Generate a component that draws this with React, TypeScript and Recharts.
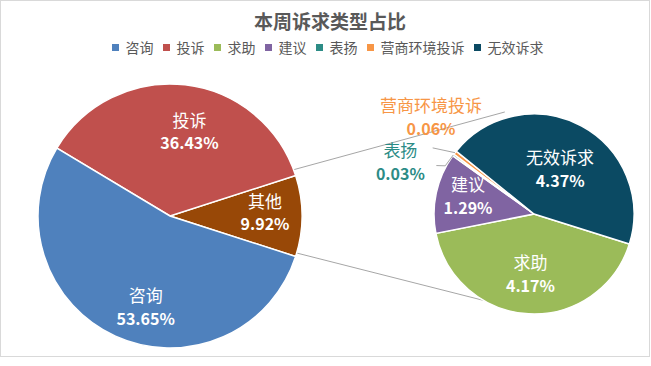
import { PieChart, Pie, Cell } from "recharts";

const categories = ["咨询", "投诉", "求助", "建议", "表扬", "营商环境投诉", "无效诉求"];
const shares = [53.65, 36.43, 4.17, 1.29, 0.03, 0.06, 4.37];
const colors = ["#4F81BD", "#C0504D", "#9BBB59", "#8064A2", "#2C8C86", "#F79646", "#0B4A63"];
const otherName = "其他";
const otherColor = "#984807";
const mainCount = 2;
// secondary pie order, clockwise from its start edge
const secondOrder = ["求助", "建议", "表扬", "营商环境投诉", "无效诉求"];

const FONT = "'Noto Sans CJK SC', 'Noto Sans', sans-serif";
const W = 651;
const H = 366;
const P1 = { cx: 165, cy: 211, r: 132 };
const P2 = { cx: 529, cy: 209, r: 100, start: -17.5 };
const RAD = Math.PI / 180;

const otherValue = shares.slice(mainCount).reduce((s, v) => s + v, 0);
const total = shares.reduce((s, v) => s + v, 0);
const otherAngle = (otherValue / total) * 360;

const leftData = [
  { name: otherName, value: otherValue, color: otherColor },
  ...categories
    .slice(0, mainCount)
    .reverse()
    .map((name) => ({ name, value: shares[categories.indexOf(name)], color: colors[categories.indexOf(name)] })),
];
const rightData = secondOrder.map((name) => ({
  name,
  value: shares[categories.indexOf(name)],
  color: colors[categories.indexOf(name)],
}));

// label placement: [angle offset from slice middle, radius factor]
const labelLayout: Record<string, { d: number; k: number; outside?: boolean; lead?: number[][] }> = {
  咨询: { d: 10, k: 0.74 },
  投诉: { d: -7, k: 0.63 },
  其他: { d: 0, k: 0.72 },
  无效诉求: { d: -4, k: 0.49 },
  求助: { d: 0, k: 0.64 },
  建议: { d: 0, k: 0.675 },
  表扬: { d: 16.4, k: 1.42, outside: true, lead: [[7.7, 1.01], [9.8, 1.09]] },
  营商环境投诉: { d: -4.4, k: 1.39, outside: true, lead: [[4.7, 1.21]] },
};

const polar = (cx: number, cy: number, r: number, a: number) => ({
  x: cx + r * Math.cos(a * RAD),
  y: cy - r * Math.sin(a * RAD),
});

function renderLabel(props: any) {
  const { cx, cy, midAngle, outerRadius, payload } = props;
  const name = payload?.name ?? props.name;
  const lay = labelLayout[name];
  if (!lay) return null;
  const p = polar(cx, cy, outerRadius * lay.k, midAngle + lay.d);
  const fill = lay.outside ? payload.color : "#ffffff";
  const pct = (payload.value ?? props.value).toFixed(2) + "%";
  let lead = null;
  if (lay.lead) {
    const pts = [polar(cx, cy, outerRadius, midAngle), ...lay.lead.map(([d, k]) => polar(cx, cy, outerRadius * k, midAngle + d))];
    lead = (
      <polyline
        points={pts.map((q) => `${q.x},${q.y}`).join(" ")}
        fill="none"
        stroke="#a6a6a6"
        strokeWidth={1}
      />
    );
  }
  return (
    <g>
      {lead}
      <text x={p.x} y={p.y - 16} textAnchor="middle" dominantBaseline="central" fill={fill} fontSize={17} fontFamily={FONT}>
        {name}
      </text>
      <text x={p.x} y={p.y + 7} textAnchor="middle" dominantBaseline="central" fill={fill} fontSize={16} fontWeight="bold" fontFamily={FONT}>
        {pct}
      </text>
    </g>
  );
}

function Connectors() {
  const a = polar(P1.cx, P1.cy, P1.r, otherAngle / 2);
  const b = polar(P1.cx, P1.cy, P1.r, -otherAngle / 2);
  const c = polar(P2.cx, P2.cy, P2.r, 104);
  const d = polar(P2.cx, P2.cy, P2.r, -108);
  return (
    <svg width={W} height={H} style={{ position: "absolute", left: 0, top: 0, pointerEvents: "none" }}>
      <line x1={a.x} y1={a.y} x2={c.x} y2={c.y} stroke="#a6a6a6" strokeWidth={1} />
      <line x1={b.x} y1={b.y} x2={d.x} y2={d.y} stroke="#a6a6a6" strokeWidth={1} />
    </svg>
  );
}

export default function App() {
  return (
    <div style={{ position: "absolute", left: 0, top: 0, width: W, height: H, background: "#fff", fontFamily: FONT }}>
      <div
        style={{
          position: "absolute",
          left: 0,
          top: 0,
          width: 650,
          height: 357,
          boxSizing: "border-box",
          border: "1px solid #d9d9d9",
        }}
      />
      <div
        style={{
          position: "absolute",
          left: 0,
          width: 660,
          top: 7,
          textAlign: "center",
          fontSize: 19,
          fontWeight: "bold",
          color: "#595959",
          lineHeight: "28px",
        }}
      >
        本周诉求类型占比
      </div>
      <div
        style={{
          position: "absolute",
          left: 0,
          width: 655,
          top: 37,
          display: "flex",
          justifyContent: "center",
          fontSize: 14,
          color: "#595959",
          lineHeight: "20px",
        }}
      >
        {categories.map((name, i) => (
          <span key={name} style={{ display: "flex", alignItems: "center", marginRight: i < categories.length - 1 ? 9 : 0 }}>
            <span style={{ width: 7, height: 7, background: colors[i], marginRight: 7, display: "inline-block" }} />
            {name}
          </span>
        ))}
      </div>
      <Connectors />
      <div style={{ position: "absolute", left: 0, top: 0 }}>
        <PieChart width={W} height={H}>
          <Pie
            data={leftData}
            dataKey="value"
            nameKey="name"
            cx={P1.cx}
            cy={P1.cy}
            outerRadius={P1.r}
            startAngle={-otherAngle / 2}
            endAngle={360 - otherAngle / 2}
            stroke="#ffffff"
            strokeWidth={1.5}
            label={renderLabel}
            labelLine={false}
            isAnimationActive={false}
          >
            {leftData.map((e) => (
              <Cell key={e.name} fill={e.color} />
            ))}
          </Pie>
          <Pie
            data={rightData}
            dataKey="value"
            nameKey="name"
            cx={P2.cx}
            cy={P2.cy}
            outerRadius={P2.r}
            startAngle={P2.start}
            endAngle={P2.start - 360}
            stroke="#ffffff"
            strokeWidth={1.5}
            label={renderLabel}
            labelLine={false}
            isAnimationActive={false}
          >
            {rightData.map((e) => (
              <Cell key={e.name} fill={e.color} />
            ))}
          </Pie>
        </PieChart>
      </div>
    </div>
  );
}
